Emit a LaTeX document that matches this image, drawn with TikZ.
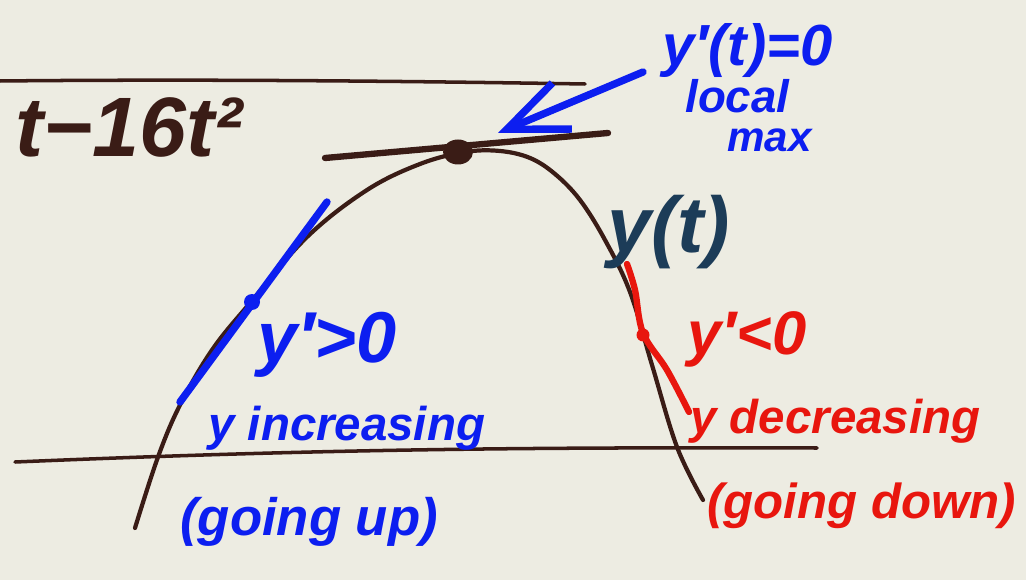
\documentclass[tikz,border=0pt]{standalone}
\usepackage{fontspec}
\setmainfont{Liberation Sans}
\usetikzlibrary{arrows.meta}
\definecolor{paper}{RGB}{237,236,226}
\definecolor{ink}{RGB}{58,28,22}
\definecolor{bluepen}{RGB}{12,30,240}
\definecolor{redpen}{RGB}{232,22,14}
\definecolor{tealpen}{RGB}{28,60,88}
\newcommand\hsz[1]{\fontsize{#1}{#1}\selectfont}
\begin{document}
\begin{tikzpicture}[x=0.02cm,y=-0.02cm,
  hand/.style={font=\bfseries\itshape, inner sep=0pt, anchor=base west},
  inkline/.style={ink, line width=2pt, line cap=round},
  curve/.style={ink, line width=2.4pt, line cap=round},
  bluestroke/.style={bluepen, line width=4.2pt, line cap=round, line join=round},
  redstroke/.style={redpen, line width=3.6pt, line cap=round, line join=round}]
\fill[paper] (0,0) rectangle (1026,580);
\useasboundingbox (0,0) rectangle (1026,580);

% ruled lines
\draw[inkline] (0,81) .. controls (200,79) and (400,81) .. (585,84);
\draw[inkline] (15,462) .. controls (300,450) and (500,447) .. (817,448);

% the curve y(t)
\draw[curve] plot[smooth, tension=0.6] coordinates {(135,528) (158,457) (180,405) (212,350) (250,303) (307,237) (367,190) (420,164) (465,152) (500,151) (530,158) (555,174) (580,200) (605,240) (630,292) (652,365) (677,447) (703,500)};

% tangent at the peak
\coordinate (tl) at (325,158);
\coordinate (tr) at (608,133);
\draw[ink, line width=3.6pt, line cap=round] (tl) -- (tr);
\node[circle, fill=ink, inner sep=0pt, minimum size=0.5cm, xscale=1.2] (peak) at (458,152) {};

% blue tangent, increasing side
\coordinate (bl) at (180,402);
\coordinate (bt) at (327,202);
\draw[bluestroke] (bl) -- (bt);
\node[circle, fill=bluepen, inner sep=0pt, minimum size=0.32cm] (bdot) at (252,302) {};

% red tangent, decreasing side
\draw[redstroke] plot[smooth, tension=0.6] coordinates {(627,264) (635,290) (643,333) (667,370) (689,412)};
\node[circle, fill=redpen, inner sep=0pt, minimum size=0.26cm] (rdot) at (643,335) {};

% formula
\node[hand, ink, font=\hsz{48pt}\bfseries\itshape] (formula) at (15,157) {t−16t²};

% local max label
\node[hand, bluepen, font=\hsz{33pt}\bfseries\itshape] (yp0) at (662,66) {y′(t)=0};
\node[hand, bluepen, font=\hsz{26pt}\bfseries\itshape] (local) at (685,113) {local};
\node[hand, bluepen, font=\hsz{24pt}\bfseries\itshape] (max) at (727,152) {max};
\coordinate (arrstart) at (643,72);
\coordinate (arrtip) at (498,133);
\draw[bluestroke, -{Straight Barb[length=1.2cm, width=1.0cm]}] (arrstart) -- (arrtip);

% y(t)
\node[hand, tealpen, font=\hsz{45pt}\bfseries\itshape] (yt) at (607,253) {y(t)};

% increasing side
\node[hand, bluepen, font=\hsz{41pt}\bfseries\itshape] (ypos) at (257,362) {y′>0};
\node[hand, bluepen, font=\hsz{27pt}\bfseries\itshape] (yinc) at (208,440) {y increasing};
\node[hand, bluepen, font=\hsz{30pt}\bfseries\itshape] (up) at (180,535) {(going up)};

% decreasing side
\node[hand, redpen, font=\hsz{35pt}\bfseries\itshape] (yneg) at (687,355) {y′<0};
\node[hand, redpen, font=\hsz{27pt}\bfseries\itshape] (ydec) at (690,433) {y decreasing};
\node[hand, redpen, font=\hsz{28pt}\bfseries\itshape] (down) at (707,518) {(going down)};
\end{tikzpicture}
\end{document}
